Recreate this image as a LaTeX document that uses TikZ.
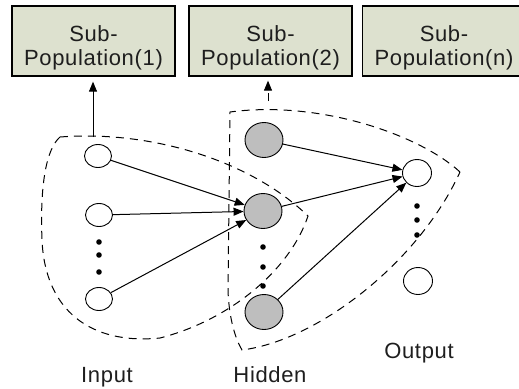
\documentclass[tikz,border=0pt]{standalone}
\usepackage{fontspec}
\setmainfont{Liberation Sans}[LetterSpace=3]
\usepackage{tikz}
\usetikzlibrary{arrows.meta,positioning,shapes.geometric}
\definecolor{boxfill}{RGB}{221,225,207}
\definecolor{cellgray}{RGB}{190,190,190}
\definecolor{inkgray}{RGB}{30,30,30}

\begin{document}
\begin{tikzpicture}[x=1pt,y=-1pt,
    popbox/.style={draw, fill=boxfill, line width=1.3pt, minimum width=163pt,
      minimum height=70pt, inner sep=0pt, align=center, text=inkgray,
      font=\fontsize{22}{24}\selectfont},
    cell/.style={draw, ellipse, line width=0.9pt, inner sep=0pt},
    incell/.style={cell, fill=white, minimum width=27pt, minimum height=23pt},
    hidcell/.style={cell, fill=cellgray, minimum width=38pt, minimum height=35pt},
    outcell/.style={cell, fill=white, minimum width=29pt, minimum height=27pt},
    arr/.style={line width=1pt, -{Triangle[length=10pt,width=8pt]}},
    region/.style={line width=1pt, dash pattern=on 8pt off 6pt},
    lbl/.style={anchor=base, text=inkgray, font=\fontsize{22}{24}\selectfont}]
  \useasboundingbox (0,0) rectangle (519,388);
  % Sub-population boxes
  \node[popbox] (box1) at (93.5,41) {\rule{0pt}{30pt}Sub-\\Population(1)};
  \node[popbox] (box2) at (270.5,41) {\rule{0pt}{30pt}Sub-\\Population(2)};
  \node[popbox] (box3) at (444,41) {\rule{0pt}{30pt}Sub-\\Population(n)};
  % Dashed regions
  \draw[region] (60,137) .. controls (150,130) and (250,160) .. (308,216)
    .. controls (290,270) and (230,320) .. (160,338)
    .. controls (90,345) and (45,310) .. (42,240)
    .. controls (40,190) and (45,150) .. cycle;
  \draw[region] (460,172) .. controls (420,135) and (320,100) .. (230,112)
    -- (228,290) .. controls (229,320) and (236,340) .. (242,350)
    .. controls (320,340) and (420,260) .. cycle;
  % Cells
  \node[incell] (in1) at (98,156) {};
  \node[incell] (in2) at (99,215) {};
  \node[incell] (in3) at (99,299) {};
  \node[hidcell] (hid1) at (264,140) {};
  \node[hidcell] (hid2) at (263,211) {};
  \node[hidcell] (hid3) at (264,312) {};
  \node[outcell] (out1) at (417,173) {};
  \node[outcell] (out2) at (418,281) {};
  % Dots
  \foreach \y in {242,255,272} \fill (99,\y) circle (2.8);
  \foreach \y in {247,267,286} \fill (263,\y) circle (2.8);
  \foreach \y in {206,220,235} \fill (417,\y) circle (2.8);
  % Connections
  \foreach \i in {1,2,3} \draw[arr] (in\i) -- (hid2);
  \foreach \i in {1,2,3} \draw[arr] (hid\i) -- (out1);
  \coordinate (intop) at (93,137);
  \coordinate (hidtop) at (268,101);
  \draw[arr, shorten >=5pt] (intop) -- (intop |- box1.south);
  \draw[arr, dash pattern=on 8pt off 3pt, shorten >=4pt] (hidtop) -- (hidtop |- box2.south);
  % Layer labels
  \node[lbl] (lin) at (107,382) {Input};
  \node[lbl] (lhid) at (270,382) {Hidden};
  \node[lbl] (lout) at (419,358) {Output};
\end{tikzpicture}
\end{document}
